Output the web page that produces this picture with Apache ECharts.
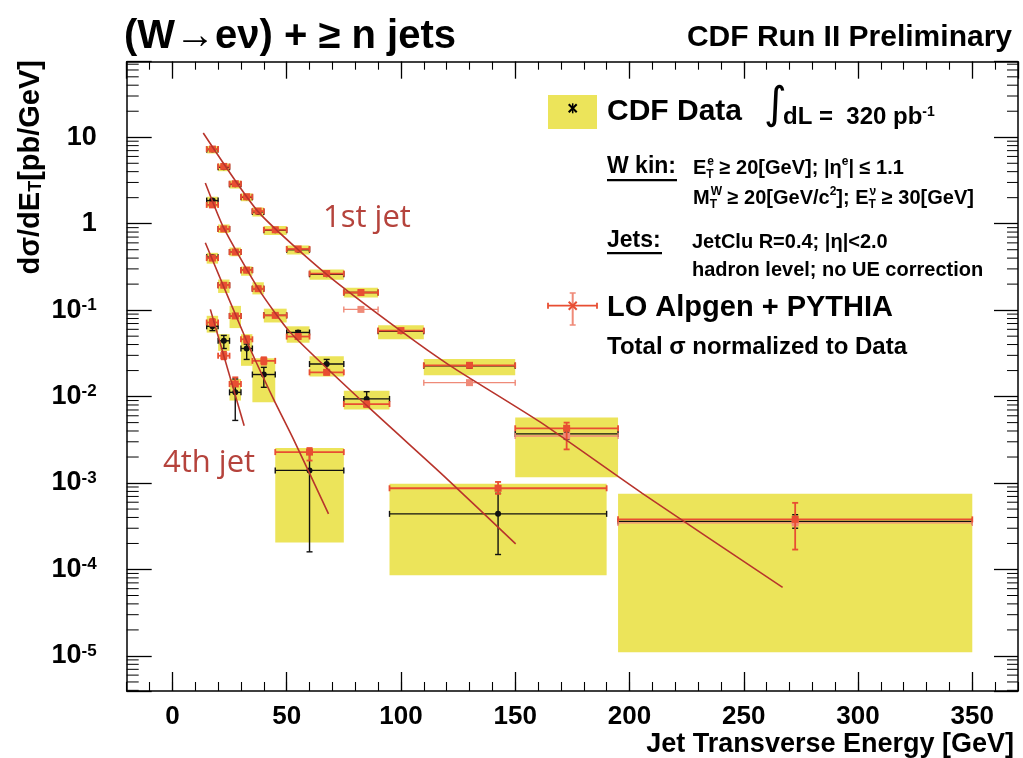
<!DOCTYPE html>
<html>
<head>
<meta charset="utf-8">
<script src="https://cdn.jsdelivr.net/npm/echarts@6/dist/echarts.min.js"></script>
<style>html,body{margin:0;padding:0;background:#fff}#c{width:1023px;height:758px}</style>
</head>
<body>
<div id="c"></div>
<script>
// ---------------- data ----------------
const xTickLabels = [0, 50, 100, 150, 200, 250, 300, 350];

const jet1Lo = [15, 20, 25, 30, 35, 40, 50, 60, 75, 90, 110, 150, 195];
const jet1Hi = [20, 25, 30, 35, 40, 50, 60, 75, 90, 110, 150, 195, 350];
const jet1Data = [7.2, 4.5, 2.85, 2.02, 1.37, 0.84, 0.50, 0.26, 0.160, 0.057, 0.0227, 0.0037, 3.6e-4];
const jet1DataErrLo = [6.9, 4.3, 2.75, 1.95, 1.32, 0.80, 0.48, 0.25, 0.152, 0.054, 0.0214, 0.0032, 3.0e-4];
const jet1DataErrHi = [7.5, 4.7, 2.95, 2.09, 1.42, 0.88, 0.52, 0.27, 0.168, 0.060, 0.0240, 0.0042, 4.3e-4];
const jet1SysLo = [6.5, 4.05, 2.55, 1.82, 1.21, 0.74, 0.44, 0.225, 0.140, 0.046, 0.0177, 0.00117, 1.1e-5];
const jet1SysHi = [7.9, 4.95, 3.15, 2.24, 1.54, 0.94, 0.56, 0.295, 0.182, 0.067, 0.0272, 0.00573, 7.5e-4];
const jet1Mc = [7.3, 4.6, 2.9, 2.05, 1.40, 0.85, 0.51, 0.265, 0.160, 0.058, 0.0230, 0.0043, 3.8e-4];
const jet1McErrLo = [7.0, 4.4, 2.8, 1.98, 1.35, 0.82, 0.49, 0.255, 0.153, 0.055, 0.0220, 0.00245, 1.7e-4];
const jet1McErrHi = [7.6, 4.8, 3.0, 2.12, 1.45, 0.88, 0.53, 0.275, 0.167, 0.061, 0.0240, 0.0050, 5.9e-4];
const jet1McAlt = [null, null, null, null, null, null, null, null, 0.102, null, 0.0145, 0.0035, 3.46e-4];
const jet1McAltErrLo = [null, null, null, null, null, null, null, null, 0.098, null, 0.0140, 0.0033, 3.3e-4];
const jet1McAltErrHi = [null, null, null, null, null, null, null, null, 0.106, null, 0.0151, 0.0037, 3.6e-4];

const jet2Lo = [15, 20, 25, 30, 35, 40, 50, 60, 75, 95];
const jet2Hi = [20, 25, 30, 35, 40, 50, 60, 75, 95, 190];
const jet2Data = [1.85, 0.87, 0.47, 0.29, 0.177, 0.087, 0.0552, 0.0238, 0.0094, 4.4e-4];
const jet2DataErrLo = [1.78, 0.84, 0.45, 0.28, 0.170, 0.083, 0.052, 0.0194, 0.0077, 1.49e-4];
const jet2DataErrHi = [1.92, 0.90, 0.49, 0.30, 0.184, 0.091, 0.058, 0.0269, 0.0114, 7.6e-4];
const jet2SysLo = [1.55, 0.78, 0.42, 0.25, 0.152, 0.072, 0.042, 0.0171, 0.0071, 8.6e-5];
const jet2SysHi = [2.05, 0.98, 0.53, 0.32, 0.21, 0.104, 0.065, 0.0292, 0.0117, 9.8e-4];
const jet2Mc = [1.65, 0.87, 0.47, 0.29, 0.177, 0.087, 0.0495, 0.0191, 0.0082, 8.7e-4];
const jet2McErrLo = [1.58, 0.83, 0.45, 0.28, 0.170, 0.083, 0.047, 0.0180, 0.0076, 7.5e-4];
const jet2McErrHi = [1.72, 0.91, 0.49, 0.30, 0.184, 0.091, 0.052, 0.0202, 0.0088, 1.03e-3];

const jet3Lo = [15, 20, 25, 30, 35, 45];
const jet3Hi = [20, 25, 30, 35, 45, 75];
const jet3Data = [0.41, 0.194, 0.0857, 0.036, 0.0180, 0.0014];
const jet3DataErrLo = [0.39, 0.185, 0.081, 0.0269, 0.0128, 1.6e-4];
const jet3DataErrHi = [0.43, 0.203, 0.090, 0.0405, 0.0218, 0.0022];
const jet3SysLo = [0.345, 0.158, 0.062, 0.0227, 0.0086, 2.05e-4];
const jet3SysHi = [0.46, 0.226, 0.112, 0.0527, 0.0277, 0.00254];
const jet3Mc = [0.40, 0.194, 0.0857, 0.046, 0.0259, 0.00228];
const jet3McErrLo = [0.38, 0.185, 0.081, 0.042, 0.0235, 0.00182];
const jet3McErrHi = [0.42, 0.203, 0.090, 0.050, 0.0285, 0.00254];

const jet4Lo = [15, 20, 25];
const jet4Hi = [20, 25, 30];
const jet4Data = [0.065, 0.0442, 0.0112];
const jet4DataErrLo = [0.058, 0.036, 0.0053];
const jet4DataErrHi = [0.073, 0.051, 0.016];
const jet4SysLo = [0.055, 0.0338, 0.009];
const jet4SysHi = [0.086, 0.0527, 0.016];
const jet4Mc = [0.072, 0.0297, 0.0140];
const jet4McErrLo = [0.066, 0.027, 0.0133];
const jet4McErrHi = [0.079, 0.033, 0.0167];

// fitted curves, points: [E_T, value]
const fit1 = [[13.5, 11.2], [37.7, 1.36], [67.6, 0.258], [100.1, 0.0571], [121.6, 0.0227], [161.0, 0.00506], [205.6, 7.6e-4], [267.0, 6.2e-5]];
const fit2 = [[14.4, 2.96], [22.4, 0.90], [37.7, 0.175], [51.6, 0.0552], [85.1, 0.00785], [118.6, 0.00122], [150.2, 1.98e-4]];
const fit3 = [[14.4, 0.603], [32.5, 0.044], [44.2, 0.0094], [53.0, 0.0032], [68.3, 4.4e-4]];
const fit4 = [[16.6, 0.102], [31.4, 0.0046]];

// ---------------- styling ----------------
const X_MIN = -20, X_MAX = 370;
const Y_MIN = 3.93e-6, Y_MAX = 74.8;
const F = '"Liberation Sans", Arial, Helvetica, sans-serif';
const YELLOW = '#ece45a';
const RED = '#e84e32';
const RED_ALT = '#ef8a78';
const FIT = '#b8342c';
const LABEL_RED = '#b5433c';

// minor tick positions of the log axis (2..9 x 10^k)
const yMinorTicks = [];
for (let k = -6; k <= 1; k++) {
  for (let m = 2; m <= 9; m++) {
    const v = m * Math.pow(10, k);
    if (v > Y_MIN && v < Y_MAX) yMinorTicks.push(v);
  }
}

function rows(lo, hi, val, eLo, eHi) {
  const out = [];
  for (let i = 0; i < lo.length; i++) {
    if (val[i] == null) continue;
    out.push([(lo[i] + hi[i]) / 2, val[i], lo[i], hi[i], eLo[i], eHi[i]]);
  }
  return out;
}
function boxRows(lo, hi, sLo, sHi) {
  return lo.map((l, i) => [l, hi[i], sLo[i], sHi[i]]);
}

function renderBox(params, api) {
  const p1 = api.coord([api.value(0), api.value(3)]);
  const p2 = api.coord([api.value(1), api.value(2)]);
  return {
    type: 'rect',
    shape: { x: p1[0], y: p1[1], width: p2[0] - p1[0], height: p2[1] - p1[1] },
    style: { fill: YELLOW }
  };
}

function errRenderer(color, lw, cap, marker) {
  return function (params, api) {
    const x = api.value(0), y = api.value(1);
    const c = api.coord([x, y]);
    const l = api.coord([api.value(2), y]);
    const r = api.coord([api.value(3), y]);
    const lo = api.coord([x, api.value(4)]);
    const hi = api.coord([x, api.value(5)]);
    const st = { stroke: color, lineWidth: lw };
    const ch = [
      { type: 'line', shape: { x1: l[0], y1: c[1], x2: r[0], y2: c[1] }, style: st },
      { type: 'line', shape: { x1: l[0], y1: c[1] - cap, x2: l[0], y2: c[1] + cap }, style: st },
      { type: 'line', shape: { x1: r[0], y1: c[1] - cap, x2: r[0], y2: c[1] + cap }, style: st },
      { type: 'line', shape: { x1: c[0], y1: hi[1], x2: c[0], y2: lo[1] }, style: st },
      { type: 'line', shape: { x1: c[0] - cap, y1: hi[1], x2: c[0] + cap, y2: hi[1] }, style: st },
      { type: 'line', shape: { x1: c[0] - cap, y1: lo[1], x2: c[0] + cap, y2: lo[1] }, style: st }
    ];
    if (marker === 'circle') {
      ch.push({ type: 'circle', shape: { cx: c[0], cy: c[1], r: 3 }, style: { fill: color } });
    } else if (marker === 'square') {
      ch.push({ type: 'rect', shape: { x: c[0] - 3.5, y: c[1] - 3.5, width: 7, height: 7 }, style: { fill: color } });
    }
    return { type: 'group', children: ch };
  };
}

const errDims = ['x', 'y', 'xlo', 'xhi', 'ylo', 'yhi'];
function errSeries(name, data, color, lw, cap, marker) {
  return {
    name: name, type: 'custom', xAxisIndex: 0, yAxisIndex: 0,
    dimensions: errDims, encode: { x: [0, 2, 3], y: [1, 4, 5] },
    renderItem: errRenderer(color, lw, cap, marker), data: data, silent: true, z: 5
  };
}
function boxSeries(name, data) {
  return {
    name: name, type: 'custom', xAxisIndex: 0, yAxisIndex: 0,
    dimensions: ['xlo', 'xhi', 'ylo', 'yhi'], encode: { x: [0, 1], y: [2, 3] },
    renderItem: renderBox, data: data, silent: true, z: 2
  };
}
function fitSeries(name, data) {
  return {
    name: name, type: 'line', xAxisIndex: 0, yAxisIndex: 0, data: data,
    showSymbol: false, smooth: 0.2, silent: true, z: 8,
    lineStyle: { color: FIT, width: 1.6 }
  };
}

const axisLineStyle = { color: '#000', width: 1.5 };
const baseXAxis = { type: 'value', min: X_MIN, max: X_MAX, splitLine: { show: false }, gridIndex: 0 };

const option = {
  animation: false,
  backgroundColor: '#fff',
  grid: { left: 126.7, right: 5, top: 61.7, bottom: 65.3, containLabel: false },
  xAxis: [
    Object.assign({}, baseXAxis, {
      position: 'bottom', minInterval: 50, maxInterval: 50, splitNumber: 8,
      axisLine: { show: true, onZero: false, lineStyle: axisLineStyle },
      axisTick: { show: true, inside: true, length: 19, lineStyle: { color: '#000', width: 1.3 } },
      axisLabel: {
        show: true, margin: 13, color: '#000', fontFamily: F, fontWeight: 'bold', fontSize: 26,
        showMinLabel: false, showMaxLabel: false,
        formatter: v => (xTickLabels.indexOf(v) >= 0 ? String(v) : '')
      },
      name: 'Jet Transverse Energy [GeV]', nameLocation: 'end', nameGap: -4,
      nameTextStyle: { color: '#000', fontFamily: F, fontWeight: 'bold', fontSize: 27, align: 'right', verticalAlign: 'top', padding: [40, 0, 0, 0] }
    }),
    Object.assign({}, baseXAxis, {
      position: 'bottom', interval: 10,
      axisLine: { show: false, onZero: false },
      axisTick: { show: true, inside: true, length: 9, lineStyle: { color: '#000', width: 1.1 } },
      axisLabel: { show: false }
    }),
    Object.assign({}, baseXAxis, {
      position: 'top', minInterval: 50, maxInterval: 50, splitNumber: 8,
      axisLine: { show: true, onZero: false, lineStyle: axisLineStyle },
      axisTick: { show: true, inside: true, length: 17, lineStyle: { color: '#000', width: 1.3 } },
      axisLabel: { show: false }
    }),
    Object.assign({}, baseXAxis, {
      position: 'top', interval: 10,
      axisLine: { show: false, onZero: false },
      axisTick: { show: true, inside: true, length: 8, lineStyle: { color: '#000', width: 1.1 } },
      axisLabel: { show: false }
    })
  ],
  yAxis: [
    {
      type: 'log', logBase: 10, min: Y_MIN, max: Y_MAX, position: 'left',
      splitLine: { show: false },
      axisLine: { show: true, onZero: false, lineStyle: axisLineStyle },
      axisTick: { show: true, inside: true, length: 25, lineStyle: { color: '#000', width: 1.3 } },
      axisLabel: {
        show: true, margin: 30, color: '#000', fontFamily: F, fontWeight: 'bold', fontSize: 27,
        formatter: function (v) {
          const e = Math.log10(v), r = Math.round(e);
          if (Math.abs(e - r) > 1e-6) return '';
          if (r === 0) return '1';
          if (r === 1) return '10';
          return '10{sup|' + r + '}';
        },
        rich: { sup: { fontSize: 17, fontWeight: 'bold', fontFamily: F, color: '#000', verticalAlign: 'top' } }
      }
    },
    {
      type: 'log', logBase: 10, min: Y_MIN, max: Y_MAX, position: 'right',
      splitLine: { show: false },
      axisLine: { show: true, onZero: false, lineStyle: axisLineStyle },
      axisTick: { show: true, inside: true, length: 24, lineStyle: { color: '#000', width: 1.3 } },
      axisLabel: { show: false }
    }
  ],
  series: [
    {
      name: 'minor ticks', type: 'custom', xAxisIndex: 0, yAxisIndex: 0, silent: true, z: 10,
      data: yMinorTicks.map(v => [X_MIN, v]),
      renderItem: function (params, api) {
        const cs = params.coordSys;
        const y = api.coord([X_MIN, api.value(1)])[1];
        const st = { stroke: '#000', lineWidth: 1 };
        return {
          type: 'group', children: [
            { type: 'line', shape: { x1: cs.x, y1: y, x2: cs.x + 12, y2: y }, style: st },
            { type: 'line', shape: { x1: cs.x + cs.width - 11, y1: y, x2: cs.x + cs.width, y2: y }, style: st }
          ]
        };
      }
    },
    boxSeries('CDF Data syst. (1st jet)', boxRows(jet1Lo, jet1Hi, jet1SysLo, jet1SysHi)),
    boxSeries('CDF Data syst. (2nd jet)', boxRows(jet2Lo, jet2Hi, jet2SysLo, jet2SysHi)),
    boxSeries('CDF Data syst. (3rd jet)', boxRows(jet3Lo, jet3Hi, jet3SysLo, jet3SysHi)),
    boxSeries('CDF Data syst. (4th jet)', boxRows(jet4Lo, jet4Hi, jet4SysLo, jet4SysHi)),
    errSeries('CDF Data (1st jet)', rows(jet1Lo, jet1Hi, jet1Data, jet1DataErrLo, jet1DataErrHi), '#111', 1.4, 3, 'circle'),
    errSeries('CDF Data (2nd jet)', rows(jet2Lo, jet2Hi, jet2Data, jet2DataErrLo, jet2DataErrHi), '#111', 1.4, 3, 'circle'),
    errSeries('CDF Data (3rd jet)', rows(jet3Lo, jet3Hi, jet3Data, jet3DataErrLo, jet3DataErrHi), '#111', 1.4, 3, 'circle'),
    errSeries('CDF Data (4th jet)', rows(jet4Lo, jet4Hi, jet4Data, jet4DataErrLo, jet4DataErrHi), '#111', 1.4, 3, 'circle'),
    errSeries('LO Alpgen + PYTHIA alt (1st jet)', rows(jet1Lo, jet1Hi, jet1McAlt, jet1McAltErrLo, jet1McAltErrHi), RED_ALT, 1.4, 3, 'square'),
    errSeries('LO Alpgen + PYTHIA (1st jet)', rows(jet1Lo, jet1Hi, jet1Mc, jet1McErrLo, jet1McErrHi), RED, 1.8, 3, 'square'),
    errSeries('LO Alpgen + PYTHIA (2nd jet)', rows(jet2Lo, jet2Hi, jet2Mc, jet2McErrLo, jet2McErrHi), RED, 1.8, 3, 'square'),
    errSeries('LO Alpgen + PYTHIA (3rd jet)', rows(jet3Lo, jet3Hi, jet3Mc, jet3McErrLo, jet3McErrHi), RED, 1.8, 3, 'square'),
    errSeries('LO Alpgen + PYTHIA (4th jet)', rows(jet4Lo, jet4Hi, jet4Mc, jet4McErrLo, jet4McErrHi), RED, 1.8, 3, 'square'),
    fitSeries('fit 1st jet', fit1),
    fitSeries('fit 2nd jet', fit2),
    fitSeries('fit 3rd jet', fit3),
    fitSeries('fit 4th jet', fit4)
  ],
  graphic: [
    { type: 'text', x: 124, y: 37, style: { text: '(W→eν) + ≥ n jets', fill: '#000', fontFamily: F, fontWeight: 'bold', fontSize: 40, verticalAlign: 'middle' } },
    { type: 'text', x: 1012, y: 38, style: { text: 'CDF Run II Preliminary', fill: '#000', fontFamily: F, fontWeight: 'bold', fontSize: 30, align: 'right', verticalAlign: 'middle' } },
    {
      type: 'text', x: 31, y: 60, rotation: Math.PI / 2,
      style: {
        text: 'dσ/dE{sb|T}[pb/GeV]', fill: '#000', fontFamily: F, fontWeight: 'bold', fontSize: 29, align: 'right', verticalAlign: 'middle',
        rich: { sb: { fontSize: 18, fontWeight: 'bold', fontFamily: F, fill: '#000', verticalAlign: 'bottom' } }
      }
    },
    // legend: CDF data
    { type: 'rect', shape: { x: 548, y: 95, width: 49, height: 34 }, style: { fill: YELLOW } },
    { type: 'line', shape: { x1: 568.7, y1: 104.3, x2: 576.7, y2: 112.3 }, style: { stroke: '#000', lineWidth: 2 } },
    { type: 'line', shape: { x1: 568.7, y1: 112.3, x2: 576.7, y2: 104.3 }, style: { stroke: '#000', lineWidth: 2 } },
    { type: 'line', shape: { x1: 572.7, y1: 103.3, x2: 572.7, y2: 113.3 }, style: { stroke: '#000', lineWidth: 1.5 } },
    { type: 'text', x: 607, y: 112, style: { text: 'CDF Data', fill: '#000', fontFamily: F, fontWeight: 'bold', fontSize: 30, verticalAlign: 'middle' } },
    { type: 'text', x: 764, y: 107, style: { text: '∫', fill: '#000', fontFamily: '"DejaVu Sans", sans-serif', fontSize: 44, verticalAlign: 'middle' } },
    {
      type: 'text', x: 783, y: 117,
      style: {
        text: 'dL =  320 pb{sp|-1}', fill: '#000', fontFamily: F, fontWeight: 'bold', fontSize: 24, verticalAlign: 'middle',
        rich: { sp: { fontSize: 14, fontWeight: 'bold', fontFamily: F, fill: '#000', verticalAlign: 'top' } }
      }
    },
    // W kinematics
    { type: 'text', x: 607, y: 167, style: { text: 'W kin:', fill: '#000', fontFamily: F, fontWeight: 'bold', fontSize: 23, verticalAlign: 'middle' } },
    { type: 'rect', shape: { x: 607, y: 179, width: 70, height: 2.2 }, style: { fill: '#000' } },
    {
      type: 'text', x: 693, y: 168,
      style: {
        text: 'E{sb|T}{sp|e} ≥ 20[GeV]; |η{sp|e}| ≤ 1.1', fill: '#000', fontFamily: F, fontWeight: 'bold', fontSize: 20, lineHeight: 32, verticalAlign: 'middle',
        rich: {
          sb: { fontSize: 12, fontWeight: 'bold', fontFamily: F, fill: '#000', verticalAlign: 'bottom', width: 1, padding: [0, 0, 3, 0] },
          sp: { fontSize: 12, fontWeight: 'bold', fontFamily: F, fill: '#000', verticalAlign: 'top', padding: [4, 0, 0, 0] }
        }
      }
    },
    {
      type: 'text', x: 693, y: 198,
      style: {
        text: 'M{sb|T}{sp|W} ≥ 20[GeV/c{sp|2}]; E{sb|T}{sp|ν} ≥ 30[GeV]', fill: '#000', fontFamily: F, fontWeight: 'bold', fontSize: 20, lineHeight: 32, verticalAlign: 'middle',
        rich: {
          sb: { fontSize: 12, fontWeight: 'bold', fontFamily: F, fill: '#000', verticalAlign: 'bottom', width: 1, padding: [0, 0, 3, 0] },
          sp: { fontSize: 12, fontWeight: 'bold', fontFamily: F, fill: '#000', verticalAlign: 'top', padding: [4, 0, 0, 0] }
        }
      }
    },
    // Jets
    { type: 'text', x: 607, y: 241, style: { text: 'Jets:', fill: '#000', fontFamily: F, fontWeight: 'bold', fontSize: 23, verticalAlign: 'middle' } },
    { type: 'rect', shape: { x: 607, y: 252, width: 55, height: 2.2 }, style: { fill: '#000' } },
    { type: 'text', x: 692, y: 242, style: { text: 'JetClu R=0.4; |η|<2.0', fill: '#000', fontFamily: F, fontWeight: 'bold', fontSize: 20, verticalAlign: 'middle' } },
    { type: 'text', x: 692, y: 270, style: { text: 'hadron level; no UE correction', fill: '#000', fontFamily: F, fontWeight: 'bold', fontSize: 20, verticalAlign: 'middle' } },
    // legend: MC
    { type: 'line', shape: { x1: 548, y1: 305.7, x2: 597, y2: 305.7 }, style: { stroke: RED, lineWidth: 1.8 } },
    { type: 'line', shape: { x1: 548, y1: 302.7, x2: 548, y2: 308.7 }, style: { stroke: RED, lineWidth: 1.8 } },
    { type: 'line', shape: { x1: 597, y1: 302.7, x2: 597, y2: 308.7 }, style: { stroke: RED, lineWidth: 1.8 } },
    { type: 'line', shape: { x1: 572.7, y1: 293, x2: 572.7, y2: 325 }, style: { stroke: RED_ALT, lineWidth: 2 } },
    { type: 'line', shape: { x1: 569.7, y1: 293, x2: 575.7, y2: 293 }, style: { stroke: RED_ALT, lineWidth: 1.5 } },
    { type: 'line', shape: { x1: 569.7, y1: 325, x2: 575.7, y2: 325 }, style: { stroke: RED_ALT, lineWidth: 1.5 } },
    { type: 'line', shape: { x1: 568.7, y1: 301.7, x2: 576.7, y2: 309.7 }, style: { stroke: RED, lineWidth: 2 } },
    { type: 'line', shape: { x1: 568.7, y1: 309.7, x2: 576.7, y2: 301.7 }, style: { stroke: RED, lineWidth: 2 } },
    { type: 'text', x: 607, y: 308, style: { text: 'LO Alpgen + PYTHIA', fill: '#000', fontFamily: F, fontWeight: 'bold', fontSize: 29, verticalAlign: 'middle' } },
    { type: 'text', x: 607, y: 347, style: { text: 'Total σ normalized to Data', fill: '#000', fontFamily: F, fontWeight: 'bold', fontSize: 24, verticalAlign: 'middle' } },
    // curve labels
    { type: 'text', x: 323, y: 218, style: { text: '1st jet', fill: LABEL_RED, fontFamily: '"Open Sans", sans-serif', fontSize: 31, verticalAlign: 'middle' } },
    { type: 'text', x: 163, y: 463, style: { text: '4th jet', fill: LABEL_RED, fontFamily: '"Open Sans", sans-serif', fontSize: 31, verticalAlign: 'middle' } }
  ]
};

const chart = echarts.init(document.getElementById('c'), null, { renderer: 'canvas' });
chart.setOption(option);
</script>
</body>
</html>
